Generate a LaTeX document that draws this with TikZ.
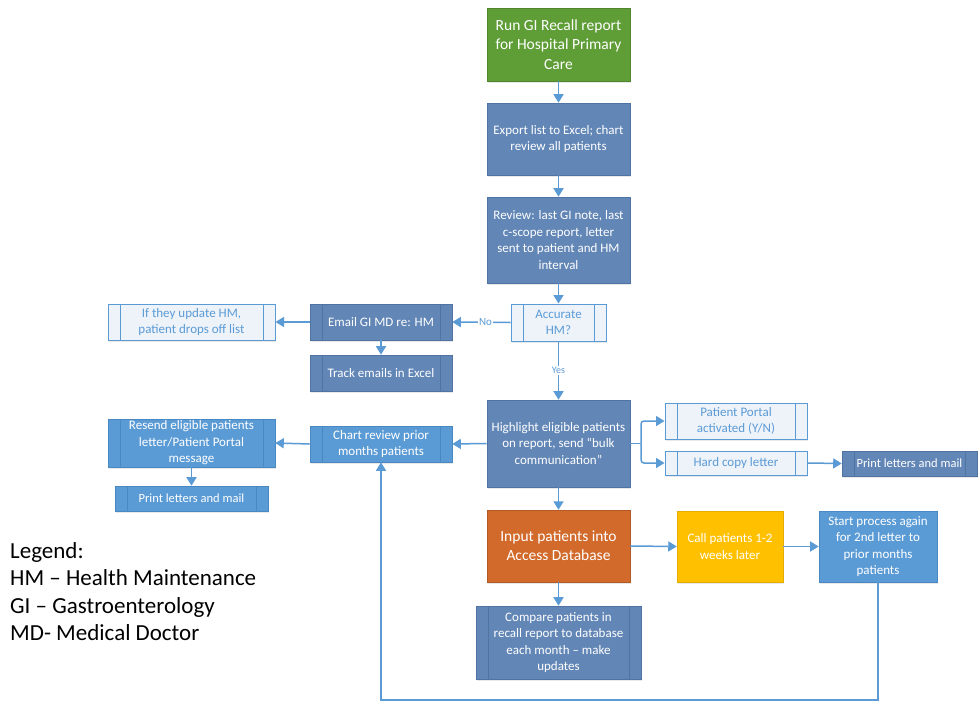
\documentclass[tikz,border=0pt]{standalone}
\usepackage{fontspec}
\setmainfont{Carlito}
\usetikzlibrary{arrows.meta,shadows}
\definecolor{lnblue}{HTML}{5B9BD5}
\definecolor{dkfill}{HTML}{6286B6}
\definecolor{dkline}{HTML}{4F73A3}
\definecolor{ltfill}{HTML}{EEF3FA}
\definecolor{mdfill}{HTML}{5B9BD5}
\definecolor{mdline}{HTML}{4A88C2}
\definecolor{grfill}{HTML}{5F9D36}
\definecolor{orfill}{HTML}{D26A2B}
\definecolor{gdfill}{HTML}{FFC000}
\tikzset{
  box/.style={rectangle, inner sep=2pt, align=center, font=\fontsize{13}{16.5}\selectfont,
    drop shadow={shadow xshift=0.6pt, shadow yshift=-1.6pt, opacity=0.18}},
  subl/.style={path picture={
      \draw[#1, line width=0.8pt] ([xshift=12pt]path picture bounding box.north west) -- ([xshift=12pt]path picture bounding box.south west);
      \draw[#1, line width=0.8pt] ([xshift=-12pt]path picture bounding box.north east) -- ([xshift=-12pt]path picture bounding box.south east);}},
  dark/.style={box, fill=dkfill, draw=dkline, line width=0.6pt, text=white},
  darksub/.style={dark, subl=dkline},
  light/.style={box, fill=ltfill, draw=lnblue, line width=1pt, text=lnblue, subl=lnblue},
  med/.style={box, fill=mdfill, draw=mdline, line width=0.6pt, text=white},
  medsub/.style={med, subl=mdline},
  arr/.style={draw=lnblue, line width=1.5pt, -{Triangle[width=10pt,length=8.5pt]}},
  ln/.style={draw=lnblue, line width=1.5pt},
  lbl/.style={fill=white, text=lnblue, inner sep=1.5pt}
}
\begin{document}
\begin{tikzpicture}[x=1pt,y=-1pt]
\useasboundingbox (0,0) rectangle (978,702);
\fill[white] (0,0) rectangle (978,702);

\node[box, fill=grfill, draw=grfill!85!black, line width=0.5pt, text=white, minimum width=143pt, minimum height=73pt, font=\fontsize{15.5}{19.5}\selectfont] (run) at (558.5,44.5) {Run GI Recall report\\for Hospital Primary\\Care};
\node[dark, minimum width=143pt, minimum height=72pt] (export) at (558.5,139) {Export list to Excel; chart\\review all patients};
\node[dark, minimum width=143pt, minimum height=86pt] (review) at (558.5,240) {Review: last GI note, last\\c-scope report, letter\\sent to patient and HM\\interval};
\node[light, minimum width=95pt, minimum height=37pt] (acc) at (558.5,322.5) {Accurate\\HM?};
\node[darksub, minimum width=142pt, minimum height=36pt] (email) at (381,322) {Email GI MD re: HM};
\node[darksub, minimum width=142pt, minimum height=36pt] (track) at (381,373) {Track emails in Excel};
\node[light, minimum width=167pt, minimum height=36pt] (ifupd) at (191.5,322) {If they update HM,\\patient drops off list};
\node[dark, minimum width=143pt, minimum height=87pt] (high) at (558.5,443.5) {Highlight eligible patients\\on report, send “bulk\\communication”};
\node[light, minimum width=142pt, minimum height=36pt] (portal) at (736,421) {Patient Portal\\activated (Y/N)};
\node[light, minimum width=142pt, minimum height=24pt] (hard) at (736,463) {Hard copy letter};
\node[darksub, minimum width=135pt, minimum height=25pt, font=\fontsize{12.5}{15}\selectfont] (printR) at (909.5,463.5) {Print letters and mail};
\node[medsub, minimum width=142pt, minimum height=36pt] (chart) at (381,444) {Chart review prior\\months patients};
\node[medsub, minimum width=167pt, minimum height=46pt] (resend) at (191.5,443) {Resend eligible patients\\letter/Patient Portal\\message};
\node[medsub, minimum width=153pt, minimum height=25pt, font=\fontsize{12.5}{15}\selectfont] (printL) at (191.5,498.5) {Print letters and mail};
\node[box, fill=orfill, draw=orfill!85!black, line width=0.5pt, text=white, minimum width=143pt, minimum height=72pt, font=\fontsize{15.5}{19}\selectfont] (input) at (558.5,546) {Input patients into\\Access Database};
\node[box, fill=gdfill, draw=gdfill!90!black, line width=0.5pt, text=white, minimum width=106pt, minimum height=71pt] (call) at (730,546.5) {Call patients 1-2\\weeks later};
\node[med, minimum width=118pt, minimum height=71pt] (start) at (878,546.5) {Start process again\\for 2nd letter to\\prior months\\patients};
\node[darksub, minimum width=165pt, minimum height=73pt] (compare) at (558.5,642.5) {Compare patients in\\recall report to database\\each month – make\\updates};

\node[anchor=north west, align=left, inner sep=0pt, font=\fontsize{23}{27.5}\selectfont] (legend) at (10,542) {Legend:\\HM – Health Maintenance\\GI – Gastroenterology\\MD- Medical Doctor};

\draw[arr] (run.south) -- (export.north);
\draw[arr] (export.south) -- (review.north);
\draw[arr] (review.south) -- (acc.north);
\draw[arr] (acc.west) -- node[lbl, pos=0.43, font=\fontsize{11}{13}\selectfont] (no) {No} (email.east);
\draw[arr] (email.west) -- (ifupd.east);
\draw[arr] (email.south) -- (track.north);
\draw[arr] (acc.south) -- node[lbl, pos=0.5, font=\fontsize{10}{12}\selectfont] (yes) {Yes} (high.north);
\coordinate (br) at (641,443.5);
\draw[ln] (high.east) -- (br);
\draw[arr, rounded corners=3pt] (br) |- (portal.west);
\draw[arr, rounded corners=3pt] (br) |- (hard.west);
\draw[arr] (hard.east) -- (printR.west);
\draw[arr] (high.west) -- (chart.east);
\draw[arr] (chart.west) -- (resend.east);
\draw[arr] (resend.south) -- (printL.north);
\draw[arr] (high.south) -- (input.north);
\draw[arr] (input.east) -- (call.west);
\draw[arr] (call.east) -- (start.west);
\draw[arr] (input.south) -- (compare.north);
\coordinate (loop) at (878,700);
\draw[arr] (start.south) -- (loop) -| (chart.south);
\end{tikzpicture}
\end{document}
